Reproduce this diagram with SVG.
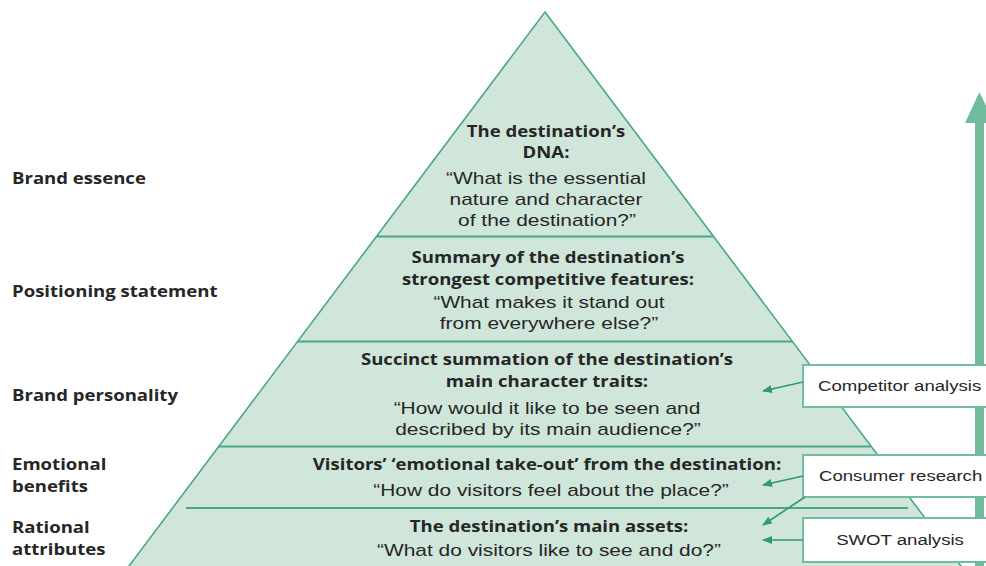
<svg xmlns="http://www.w3.org/2000/svg" width="986" height="566" viewBox="0 0 986 566">
  <defs>
    <style>
      .b { font-family: "Open Sans", "Noto Sans", "DejaVu Sans", sans-serif; font-weight: 700; font-size: 16.5px; fill: #262626; }
      .r { font-family: "Liberation Sans", Arial, sans-serif; font-size: 17px; fill: #262626; }
      .bx { font-family: "Liberation Sans", Arial, sans-serif; font-size: 15.5px; fill: #262626; }
      .m { text-anchor: middle; }
      .band { stroke: #4aa784; stroke-width: 2; fill: none; }
      .box { fill: #ffffff; stroke: #72bd9c; stroke-width: 2; }
      .conn { stroke: #2f9a6e; stroke-width: 1.6; fill: none; marker-end: url(#ah); }
    </style>
    <marker id="ah" viewBox="0 0 10 8" refX="9" refY="4" markerWidth="10" markerHeight="8" markerUnits="userSpaceOnUse" orient="auto">
      <path d="M0,0 L10,4 L0,8 Z" fill="#2f9a6e"/>
    </marker>
  </defs>

  <rect x="0" y="0" width="986" height="566" fill="#ffffff"/>

  <!-- vertical progress arrow -->
  <g id="progress-arrow">
    <rect x="975" y="118" width="9" height="460" fill="#6fbb9c"/>
    <polygon points="965,123 979.5,92 994,123" fill="#6fbb9c"/>
  </g>

  <!-- pyramid -->
  <g id="pyramid">
    <polygon points="545,12 964,570 126,570" fill="#d0e6db" stroke="#4aa784" stroke-width="1.6"/>
    <line class="band" x1="377" y1="236.5" x2="713" y2="236.5"/>
    <line class="band" x1="298" y1="341.5" x2="792" y2="341.5"/>
    <line class="band" x1="219" y1="446.5" x2="871" y2="446.5"/>
    <line class="band" x1="186" y1="508" x2="908" y2="508"/>
  </g>

  <!-- left labels -->
  <g id="label-brand-essence">
    <text class="b" transform="translate(12 184) scale(1.125 1)">Brand essence</text>
  </g>
  <g id="label-positioning">
    <text class="b" transform="translate(12 297) scale(1.125 1)">Positioning statement</text>
  </g>
  <g id="label-personality">
    <text class="b" transform="translate(12 401) scale(1.125 1)">Brand personality</text>
  </g>
  <g id="label-emotional">
    <text class="b" transform="translate(12 470) scale(1.125 1)">Emotional</text>
    <text class="b" transform="translate(12 492) scale(1.125 1)">benefits</text>
  </g>
  <g id="label-rational">
    <text class="b" transform="translate(12 533) scale(1.125 1)">Rational</text>
    <text class="b" transform="translate(12 555) scale(1.125 1)">attributes</text>
  </g>

  <!-- tier texts -->
  <g id="tier-essence">
    <text class="b m" transform="translate(546 137) scale(1.125 1)">The destination’s</text>
    <text class="b m" transform="translate(546 158) scale(1.125 1)">DNA:</text>
    <text class="r m" transform="translate(546 184) scale(1.23 1)">“What is the essential</text>
    <text class="r m" transform="translate(546 205) scale(1.23 1)">nature and character</text>
    <text class="r m" transform="translate(547 226) scale(1.23 1)">of the destination?”</text>
  </g>
  <g id="tier-positioning">
    <text class="b m" transform="translate(548 263) scale(1.125 1)">Summary of the destination’s</text>
    <text class="b m" transform="translate(548 285) scale(1.125 1)">strongest competitive features:</text>
    <text class="r m" transform="translate(549 308) scale(1.23 1)">“What makes it stand out</text>
    <text class="r m" transform="translate(549 329) scale(1.23 1)">from everywhere else?”</text>
  </g>
  <g id="tier-personality">
    <text class="b m" transform="translate(547 365) scale(1.125 1)">Succinct summation of the destination’s</text>
    <text class="b m" transform="translate(547 387) scale(1.125 1)">main character traits:</text>
    <text class="r m" transform="translate(547 414) scale(1.23 1)">“How would it like to be seen and</text>
    <text class="r m" transform="translate(548 435) scale(1.23 1)">described by its main audience?”</text>
  </g>
  <g id="tier-emotional">
    <text class="b m" transform="translate(547 470) scale(1.125 1)">Visitors’ ‘emotional take-out’ from the destination:</text>
    <text class="r m" transform="translate(551 496) scale(1.23 1)">“How do visitors feel about the place?”</text>
  </g>
  <g id="tier-rational">
    <text class="b m" transform="translate(549 532) scale(1.125 1)">The destination’s main assets:</text>
    <text class="r m" transform="translate(549 556) scale(1.23 1)">“What do visitors like to see and do?”</text>
  </g>

  <!-- side boxes -->
  <g id="box-competitor">
    <rect class="box" x="803" y="365" width="200" height="42"/>
    <text class="bx" transform="translate(818 391) scale(1.2 1)">Competitor analysis</text>
  </g>
  <g id="box-consumer">
    <rect class="box" x="803" y="455" width="200" height="42"/>
    <text class="bx" transform="translate(819 481) scale(1.2 1)">Consumer research</text>
  </g>
  <g id="box-swot">
    <rect class="box" x="803" y="518" width="200" height="44"/>
    <text class="bx m" transform="translate(900 545) scale(1.2 1)">SWOT analysis</text>
  </g>

  <!-- connectors -->
  <g id="connectors">
    <line class="conn" x1="803" y1="382" x2="763" y2="391"/>
    <line class="conn" x1="803" y1="476" x2="763" y2="485"/>
    <line class="conn" x1="805" y1="497" x2="763" y2="525"/>
    <line class="conn" x1="803" y1="540" x2="763" y2="540"/>
  </g>
</svg>
